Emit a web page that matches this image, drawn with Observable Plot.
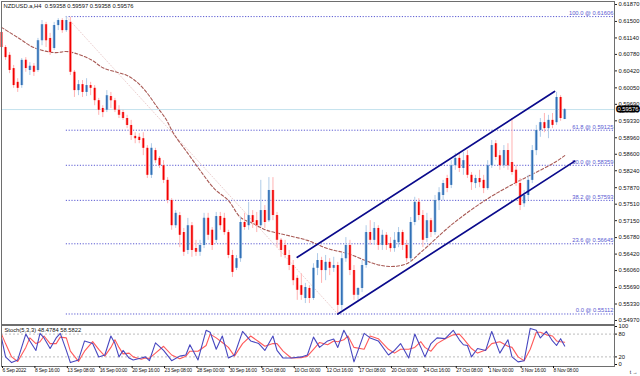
<!DOCTYPE html>
<html><head><meta charset="utf-8">
<script src="https://cdn.jsdelivr.net/npm/d3@7"></script>
<script src="https://cdn.jsdelivr.net/npm/@observablehq/plot@0.6"></script>
<style>
html,body{margin:0;padding:0;background:#fff;}
#chart{position:relative;width:640px;height:376px;overflow:hidden;}
#chart svg{display:block;}
#chart [aria-label="x-axis tick label"]{letter-spacing:-0.2px;}
</style></head><body><div id="chart"></div>
<script>
// ---------- data ----------
const title = "NZDUSD.a,H4  0.59358 0.59597 0.59358 0.59576";
const stochTitle = "Stoch(5,3,3) 48.4784 58.5822";
// one candle per two H4 bars (candle k sits at H4 bar index 2k)
const open = [
0.6126,0.6093,0.6076,0.6047,0.6017,0.6010,0.6065,0.6043,0.6052,0.6043,
0.6108,0.6143,0.6113,0.6091,0.6141,0.6152,0.6130,0.6148,0.6039,0.5999,
0.6012,0.5995,0.6010,0.6004,0.5977,0.5960,0.5956,0.5986,0.5977,0.5956,
0.5951,0.5938,0.5923,0.5899,0.5897,0.5894,0.5873,0.5814,0.5868,0.5851,
0.5835,0.5803,0.5759,0.5704,0.5726,0.5689,0.5650,0.5704,0.5654,0.5646,
0.5661,0.5720,0.5694,0.5672,0.5724,0.5720,0.5689,0.5639,0.5611,0.5632,
0.5711,0.5704,0.5726,0.5715,0.5704,0.5737,0.5715,0.5781,0.5726,0.5672,
0.5661,0.5639,0.5617,0.5589,0.5573,0.5545,0.5567,0.5545,0.5611,0.5628,
0.5606,0.5624,0.5611,0.5617,0.5530,0.5632,0.5661,0.5606,0.5552,0.5567,
0.5617,0.5689,0.5672,0.5698,0.5661,0.5683,0.5665,0.5654,0.5667,0.5689,
0.5661,0.5632,0.5711,0.5755,0.5726,0.5676,0.5715,0.5689,0.5759,0.5770,
0.5807,0.5792,0.5835,0.5851,0.5829,0.5857,0.5814,0.5796,0.5807,0.5803,
0.5785,0.5835,0.5883,0.5857,0.5835,0.5868,0.5842,0.5825,0.5796,0.5752,
0.5770,0.5803,0.5868,0.5912,0.5929,0.5916,0.5934,0.5929,0.5984,0.59358];
const high = [
0.6135,0.6097,0.6082,0.6054,0.6025,0.6069,0.6071,0.6060,0.6058,0.6113,
0.6152,0.6148,0.6124,0.6148,0.6156,0.6156,0.6161,0.6159,0.6043,0.6021,
0.6021,0.6025,0.6017,0.6010,0.5982,0.5966,0.5999,0.5995,0.5982,0.5966,
0.5956,0.5945,0.5934,0.5907,0.5905,0.5907,0.5879,0.5883,0.5873,0.5855,
0.5846,0.5809,0.5763,0.5737,0.5733,0.5698,0.5720,0.5711,0.5672,0.5672,
0.5731,0.5731,0.5700,0.5733,0.5733,0.5731,0.5694,0.5650,0.5639,0.5722,
0.5731,0.5755,0.5737,0.5733,0.5803,0.5748,0.5809,0.5809,0.5733,0.5676,
0.5672,0.5650,0.5628,0.5595,0.5599,0.5578,0.5573,0.5621,0.5643,0.5635,
0.5639,0.5632,0.5635,0.5624,0.5643,0.5678,0.5672,0.5617,0.5569,0.5628,
0.5704,0.5715,0.5711,0.5704,0.5694,0.5689,0.5678,0.5689,0.5700,0.5694,
0.5672,0.5722,0.5766,0.5763,0.5737,0.5731,0.5720,0.5770,0.5787,0.5803,
0.5814,0.5846,0.5862,0.5862,0.5864,0.5868,0.5820,0.5814,0.5825,0.5814,
0.5846,0.5890,0.5890,0.5868,0.5879,0.5883,0.5938,0.5835,0.5807,0.5781,
0.5814,0.5879,0.5923,0.5938,0.5949,0.5945,0.5949,0.5995,0.5988,0.59597];
const low = [
0.6087,0.6065,0.6036,0.6004,0.5995,0.6004,0.6039,0.6032,0.6030,0.6039,
0.6097,0.6093,0.6076,0.6087,0.6130,0.6124,0.6126,0.6032,0.5984,0.5988,
0.5984,0.5986,0.5988,0.5966,0.5945,0.5940,0.5951,0.5960,0.5951,0.5938,
0.5934,0.5916,0.5890,0.5883,0.5883,0.5857,0.5807,0.5807,0.5840,0.5829,
0.5796,0.5752,0.5694,0.5698,0.5656,0.5637,0.5641,0.5635,0.5637,0.5637,
0.5654,0.5672,0.5650,0.5665,0.5694,0.5683,0.5632,0.5591,0.5606,0.5624,
0.5694,0.5694,0.5698,0.5689,0.5700,0.5698,0.5711,0.5715,0.5656,0.5635,
0.5632,0.5606,0.5573,0.5541,0.5541,0.5534,0.5534,0.5541,0.5595,0.5578,
0.5584,0.5595,0.5602,0.5512,0.5519,0.5624,0.5595,0.5541,0.5541,0.5558,
0.5611,0.5661,0.5661,0.5650,0.5650,0.5650,0.5646,0.5646,0.5656,0.5650,
0.5624,0.5624,0.5704,0.5715,0.5656,0.5667,0.5678,0.5683,0.5737,0.5759,
0.5776,0.5785,0.5825,0.5820,0.5814,0.5807,0.5781,0.5785,0.5787,0.5774,
0.5781,0.5829,0.5846,0.5825,0.5829,0.5825,0.5814,0.5790,0.5737,0.5744,
0.5759,0.5796,0.5857,0.5897,0.5907,0.5894,0.5916,0.5923,0.5932,0.59358];
const close = [
0.6093,0.6071,0.6043,0.6010,0.6004,0.6065,0.6047,0.6052,0.6039,0.6108,
0.6143,0.6108,0.6082,0.6141,0.6152,0.6130,0.6152,0.6039,0.5999,0.6012,
0.5995,0.6010,0.6004,0.5977,0.5956,0.5951,0.5988,0.5977,0.5956,0.5945,
0.5938,0.5923,0.5901,0.5894,0.5890,0.5873,0.5814,0.5873,0.5846,0.5835,
0.5803,0.5759,0.5704,0.5731,0.5683,0.5646,0.5704,0.5650,0.5646,0.5661,
0.5720,0.5683,0.5661,0.5724,0.5704,0.5689,0.5639,0.5602,0.5632,0.5711,
0.5700,0.5726,0.5711,0.5704,0.5737,0.5711,0.5781,0.5726,0.5672,0.5650,
0.5639,0.5617,0.5584,0.5563,0.5552,0.5569,0.5545,0.5611,0.5628,0.5606,
0.5624,0.5611,0.5617,0.5530,0.5632,0.5661,0.5606,0.5552,0.5567,0.5617,
0.5689,0.5672,0.5698,0.5661,0.5683,0.5661,0.5654,0.5672,0.5689,0.5661,
0.5632,0.5711,0.5755,0.5726,0.5672,0.5715,0.5689,0.5759,0.5776,0.5796,
0.5785,0.5835,0.5851,0.5829,0.5846,0.5814,0.5798,0.5807,0.5798,0.5785,
0.5835,0.5879,0.5853,0.5835,0.5868,0.5835,0.5820,0.5796,0.5748,0.5770,
0.5803,0.5868,0.5912,0.5929,0.5916,0.5934,0.5923,0.5984,0.5938,0.59576];

// moving average (H4 bar index, price)
const maIdx = [0,8,16,26,33,44,50,57,62,67,72,77,81,85,92,98,105,112,118,124,131,141,151,161,171,184,192,200,207,223,240,253,261,273,278];
const maVal = [0.6137,0.6115,0.6093,0.6082,0.6084,0.6067,0.6049,0.6039,0.6032,0.6017,0.5993,0.5962,0.5938,0.5905,0.5862,0.5825,0.5785,0.5759,0.5722,0.5709,0.5694,0.5683,0.5672,0.5654,0.5643,0.5621,0.5615,0.5621,0.5646,0.5709,0.5763,0.5796,0.5814,0.5842,0.5857];

// Fibonacci retracement
const fibLevels = [100.0, 61.8, 50.0, 38.2, 23.6, 0.0];
const fibPrices = [0.61606, 0.59125, 0.58359, 0.57593, 0.56645, 0.55112];
const fibAnchorIdx = [32, 166];      // swing high bar, swing low bar
const fibAnchorPrice = [0.61606, 0.55112];

// channel lines (bar index, price)
const upperIdx = [146, 273], upperPrice = [0.5635, 0.5997];
const lowerIdx = [166, 283], lowerPrice = [0.5511, 0.5845];

// price axis
const priceTicks = [0.61870,0.61500,0.61140,0.60780,0.60420,0.60050,0.59690,0.59330,0.58960,0.58600,0.58240,0.57870,0.57510,0.57150,0.56780,0.56420,0.56060,0.55690,0.55330,0.54970];
const priceDomain = [0.54970, 0.61870];
const lastPrice = 0.59576;

// stochastic (bar index, %K, %D)
const stochIdx = [0,2,5,8,12,14,17,19,21,24,27,29,32,34,38,41,45,48,51,54,56,58,60,63,65,69,71,73,76,80,84,88,91,93,97,101,103,106,109,112,115,119,123,127,130,134,136,139,143,148,151,154,157,161,164,166,169,171,174,179,182,186,191,194,197,201,204,207,209,212,215,219,223,226,228,230,232,235,239,242,246,250,252,255,258,261,264,266,269,272,274,276,278];
const stochK = [70,20,5,12,80,62,37,82,70,42,70,82,37,5,12,62,55,20,25,75,55,20,37,17,12,17,20,10,57,37,10,22,25,52,12,90,85,40,75,17,25,87,62,55,37,75,37,17,17,20,25,72,45,62,67,45,90,70,7,82,70,62,25,37,55,17,80,45,20,55,70,68,90,65,52,50,20,42,37,87,30,65,20,7,10,95,90,70,87,62,50,68,48.48];
const stochD = [80,55,20,8,45,70,55,60,75,55,55,72,70,35,8,35,60,40,22,45,65,45,28,30,20,14,17,16,30,48,25,15,22,35,35,50,80,70,58,45,22,55,75,60,48,55,55,35,17,18,22,40,58,52,62,60,65,75,45,40,75,68,40,30,40,40,45,60,45,35,55,68,78,80,68,55,42,30,38,55,60,48,45,20,10,40,85,85,78,75,62,60,58.58];
const stochLevels = [20, 80];
const stochTicks = [0, 20, 80, 100];

// time axis
const timeIdx = [0,16,32,48,64,80,96,112,128,144,160,176,192,208,224,240,256,272];
const timeLabels = ["6 Sep 2022","8 Sep 16:00","13 Sep 08:00","16 Sep 00:00","20 Sep 16:00","23 Sep 08:00","28 Sep 00:00","30 Sep 16:00","5 Oct 08:00","10 Oct 00:00","12 Oct 16:00","17 Oct 08:00","20 Oct 00:00","24 Oct 16:00","27 Oct 08:00","1 Nov 00:00","3 Nov 16:00","8 Nov 08:00"];

// ---------- build ----------
const xDomain = [0, 302.6];
const font = "'Liberation Sans', Arial, sans-serif";
const candles = open.map((o, k) => ({t: 2 * k, o, h: high[k], l: low[k], c: close[k], up: close[k] >= o}));
const ma = maIdx.map((t, i) => ({t, v: maVal[i]}));
const fibDiag = fibAnchorIdx.map((t, i) => ({t, v: fibAnchorPrice[i]}));
const channel = [
  ...upperIdx.map((t, i) => ({t, v: upperPrice[i], s: "u"})),
  ...lowerIdx.map((t, i) => ({t, v: lowerPrice[i], s: "l"}))
];
const stoch = stochIdx.map((t, i) => ({t, k: stochK[i], d: stochD[i]}));
const timeMap = new Map(timeIdx.map((t, i) => [t, timeLabels[i]]));

const fibColor = "#5a5ad2";
const bullCore = "#3170b6", bullSoft = "#b0cce8";
const bearCore = "#f20000", bearSoft = "#ffb2b2";

const main = Plot.plot({
  width: 640, height: 324,
  marginLeft: 1, marginRight: 26, marginTop: 1, marginBottom: 0,
  x: {domain: xDomain, range: [1, 614], axis: null},
  y: {domain: priceDomain, range: [320, 4], axis: null},
  style: {fontFamily: font, fontSize: "5.8px", color: "#111", background: "#fff", overflow: "visible"},
  marks: [
    Plot.ruleY([lastPrice], {stroke: "#c4e2ee", strokeWidth: 1}),
    Plot.ruleY(fibPrices, {x1: fibAnchorIdx[0], x2: xDomain[1], stroke: fibColor, strokeWidth: 1, strokeDasharray: "1.2,1.6"}),
    Plot.text(fibPrices, {x: xDomain[1], y: d => d, text: (d, i) => `${fibLevels[i].toFixed(1)} @ ${d.toFixed(5)}`, textAnchor: "end", dx: -1, dy: -3.5, fill: fibColor}),
    Plot.line(fibDiag, {x: "t", y: "v", stroke: "#e6c4c4", strokeWidth: 0.8, strokeDasharray: "1,2"}),
    Plot.line(ma, {x: "t", y: "v", stroke: "#a85a55", strokeWidth: 1.1, strokeDasharray: "3,2", curve: "catmull-rom"}),
    Plot.ruleX(candles, {x: "t", y1: "l", y2: "h", stroke: d => d.up ? bullSoft : bearSoft, strokeWidth: 1}),
    Plot.ruleX(candles, {x: "t", y1: "o", y2: "c", stroke: d => d.up ? bullSoft : bearSoft, strokeWidth: 3}),
    Plot.ruleX(candles, {x: "t", y1: "o", y2: "c", stroke: d => d.up ? bullCore : bearCore, strokeWidth: 1.6}),
    Plot.line(channel, {x: "t", y: "v", z: "s", stroke: "#0a0a8c", strokeWidth: 1.7}),
    Plot.frame({stroke: "#6e6e6e"}),
    Plot.axisY({anchor: "right", ticks: priceTicks, tickFormat: d => d.toFixed(5), tickSize: 2, tickPadding: 2, stroke: "#222"}),
    Plot.text([lastPrice], {x: xDomain[1], y: d => d, text: d => d.toFixed(5), textAnchor: "start", dx: 3, fill: "white", stroke: "black", strokeWidth: 3.2, strokeLinejoin: "miter", paintOrder: "stroke"}),
    Plot.text([title], {frameAnchor: "top-left", text: d => d, dx: 2, dy: 2, lineAnchor: "top", fill: "#111"})
  ]
});

const sub = Plot.plot({
  width: 640, height: 52,
  marginLeft: 1, marginRight: 26, marginTop: 1, marginBottom: 10,
  x: {domain: xDomain, range: [1, 614]},
  y: {domain: [0, 100], range: [40, 2], axis: null},
  style: {fontFamily: font, fontSize: "5.8px", color: "#111", background: "#fff", overflow: "visible"},
  marks: [
    Plot.ruleY(stochLevels, {stroke: "#bcbcbc", strokeDasharray: "2,2"}),
    Plot.line(stoch, {x: "t", y: "d", stroke: "#ff5a5a", strokeWidth: 1.1}),
    Plot.line(stoch, {x: "t", y: "k", stroke: "#4848c0", strokeWidth: 1.1}),
    Plot.frame({stroke: "#6e6e6e"}),
    Plot.axisY({anchor: "right", ticks: stochTicks, tickSize: 2, tickPadding: 2}),
    Plot.axisX({anchor: "bottom", ticks: timeIdx, tickFormat: d => timeMap.get(d), textAnchor: "start", tickSize: 2, tickPadding: 0, dx: 1, fontSize: 5}),
    Plot.text([stochTitle], {frameAnchor: "top-left", text: d => d, dx: 3, dy: 2, lineAnchor: "top", fill: "#111"})
  ]
});

const host = document.getElementById("chart");
host.appendChild(main);
host.appendChild(sub);
</script>
</body></html>
